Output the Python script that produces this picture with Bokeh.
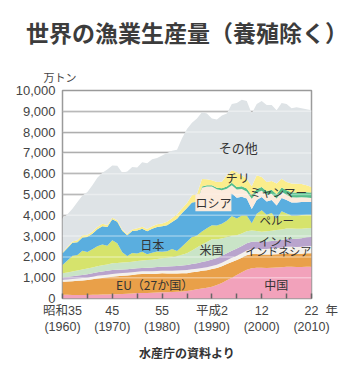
from bokeh.plotting import figure
from bokeh.models import (ColumnDataSource, Range1d, FixedTicker, NumeralTickFormatter,
                          Label, Span, Title)
from bokeh.embed import file_html
from bokeh.resources import INLINE

# ---- data (万トン) ----
years = list(range(1960, 2011))

china = [180, 175, 170, 170, 170, 170, 180, 185, 190, 195, 200,
         210, 220, 230, 245, 260, 265, 270, 280, 290, 300,
         305, 310, 320, 340, 360, 400, 440, 480, 520, 570,
         650, 750, 880, 1000, 1130, 1260, 1380, 1460, 1480, 1480,
         1470, 1480, 1490, 1500, 1530, 1530, 1520, 1520, 1530, 1530]

eu = [620, 640, 660, 680, 700, 720, 750, 780, 800, 820, 850,
      860, 870, 880, 890, 900, 910, 910, 900, 905, 910,
      900, 890, 880, 870, 850, 860, 850, 850, 840, 850,
      820, 800, 780, 760, 715, 700, 700, 680, 660, 640,
      650, 640, 640, 640, 640, 630, 630, 630, 640, 640]

indonesia = [100, 100, 105, 110, 115, 120, 120, 125, 125, 130, 130,
             130, 130, 130, 130, 130, 130, 130, 130, 130, 130,
             135, 140, 145, 150, 160, 150, 145, 140, 140, 140,
             150, 165, 180, 195, 210, 220, 230, 240, 250, 255,
             265, 280, 295, 305, 320, 325, 330, 335, 345, 350]

india = [110, 120, 130, 140, 150, 160, 165, 170, 180, 185, 190,
         180, 175, 170, 165, 160, 165, 170, 175, 185, 190,
         195, 205, 215, 225, 240, 250, 265, 280, 300, 320,
         330, 335, 340, 345, 350, 350, 350, 350, 350, 350,
         355, 360, 360, 365, 370, 380, 395, 410, 425, 440]

usa = [200, 210, 230, 250, 260, 270, 280, 290, 300, 310, 320,
       325, 330, 335, 340, 350, 360, 370, 380, 390, 400,
       420, 450, 480, 520, 560, 650, 750, 850, 920, 970,
       900, 840, 780, 720, 640, 600, 570, 540, 510, 480,
       490, 500, 505, 510, 510, 500, 480, 460, 440, 430]

peru = [400, 580, 760, 740, 900, 800, 870, 960, 1000, 900, 1115,
        950, 500, 300, 420, 365, 420, 280, 340, 360, 320,
        320, 380, 240, 400, 560, 650, 580, 620, 660, 670,
        660, 700, 780, 950, 800, 860, 760, 350, 820, 1040,
        800, 850, 550, 880, 720, 620, 640, 660, 650, 640]

japan = [560, 600, 620, 620, 640, 715, 750, 820, 880, 900, 1000,
         1030, 1030, 1000, 1050, 1100, 1100, 1100, 1150, 1180, 1220,
         1250, 1300, 1550, 1600, 1620, 1650, 1620, 1580, 1520, 1440,
         1320, 1200, 1120, 1080, 1000, 900, 820, 680, 660, 640,
         630, 620, 630, 630, 640, 630, 620, 620, 610, 610]

russia = [0, 0, 0, 0, 0, 0, 0, 0, 0, 0, 0,
          0, 0, 0, 0, 0, 0, 0, 0, 0, 0,
          0, 0, 0, 0, 0, 0, 0, 520, 480, 420,
          420, 420, 420, 400, 400, 370, 340, 500, 370, 300,
          320, 310, 340, 300, 260, 250, 240, 230, 210, 190]

myanmar = [0, 0, 0, 0, 0, 0, 0, 0, 0, 0, 0,
           0, 0, 0, 0, 0, 0, 0, 0, 0, 0,
           0, 0, 0, 0, 0, 0, 0, 60, 65, 70,
           80, 85, 100, 110, 120, 135, 140, 150, 160, 175,
           180, 190, 205, 210, 220, 235, 240, 250, 260, 270]

chile = [40, 60, 70, 90, 110, 115, 100, 110, 120, 90, 80,
         80, 60, 60, 80, 110, 100, 110, 120, 130, 130,
         160, 180, 220, 220, 240, 350, 380, 370, 290, 230,
         270, 320, 540, 600, 710, 530, 470, 450, 660, 485,
         440, 420, 510, 420, 390, 425, 425, 385, 330, 260]

world_total = [3850, 4050, 4320, 4640, 4950, 5120, 5440, 5800, 6050, 6200, 6400,
               6380, 6050, 6100, 6320, 6300, 6550, 6500, 6700, 6750, 6880,
               7000, 7100, 7150, 7700, 8150, 8450, 8650, 8950, 8900, 8650,
               8600, 8800, 8900, 9350, 9400, 9550, 9500, 8900, 9350, 9500,
               9300, 9300, 9050, 9400, 9350, 9150, 9200, 9150, 9100, 9050]

y_ticks = [0, 1000, 2000, 3000, 4000, 5000, 6000, 7000, 8000, 9000, 10000]
x_tick_years = [1960, 1965, 1970, 1975, 1980, 1985, 1990, 1995, 2000, 2005, 2010]
x_tick_labels = ["昭和35\n(1960)", "", "45\n(1970)", "", "55\n(1980)", "",
                 "平成2\n(1990)", "", "12\n(2000)", "", "\u3000\u00a0\u00a022\u00a0\u00a0年\n(2010)"]

series_names = ["china", "eu", "indonesia", "india", "usa", "peru", "japan", "russia", "myanmar", "chile"]
series_values = [china, eu, indonesia, india, usa, peru, japan, russia, myanmar, chile]
colors = ["#F2A2BB", "#E9A049", "#F4F1EB", "#B9A4CD", "#C9E4C7", "#D6E36C",
          "#5AAEDF", "#FCEBDC", "#55BE8A", "#FBED8C"]
grey = "#DEE3E6"

data = {"year": years, "total": world_total}
for n, v in zip(series_names, series_values):
    data[n] = v
data["country_sum"] = [sum(vals) for vals in zip(*series_values)]
src = ColumnDataSource(data)

JP = "Noto Sans CJK JP"
MIX = "Liberation Sans, Noto Sans CJK JP"
TXT = "#333333"

p = figure(width=350, height=380, x_range=Range1d(1960, 2010), y_range=Range1d(0, 10000),
           output_backend="svg", toolbar_location=None,
           min_border_left=62, min_border_right=39, min_border_top=90, min_border_bottom=82,
           background_fill_color="white", border_fill_color="white")

p.varea_stack(stackers=series_names, x="year", color=colors, source=src)
p.varea(x="year", y1="country_sum", y2="total", source=src, color=grey)

# grid
p.xgrid.visible = False
p.ygrid.ticker = FixedTicker(ticks=y_ticks)
p.ygrid.grid_line_color = "#8e8e8e"
p.ygrid.grid_line_width = 1.5
for v in y_ticks[1:-1]:
    p.add_layout(Span(location=v, dimension="width", line_color="white",
                      line_alpha=0.38, line_width=1.5))

p.outline_line_color = "#9a9a9a"
p.outline_line_width = 1.5

# y axis
p.yaxis.ticker = FixedTicker(ticks=y_ticks)
p.yaxis.formatter = NumeralTickFormatter(format="0,0")
p.yaxis.major_tick_in = 0
p.yaxis.major_tick_out = 0
p.yaxis.minor_tick_line_color = None
p.yaxis.axis_line_color = None
p.yaxis.major_label_standoff = 7
p.yaxis.major_label_text_font = "Liberation Sans"
p.yaxis.major_label_text_font_size = "13px"
p.yaxis.major_label_text_color = "#444444"

# x axis: inside ticks, two-line era/year labels
p.xaxis.ticker = FixedTicker(ticks=x_tick_years)
p.xaxis.major_label_overrides = {y: t for y, t in zip(x_tick_years, x_tick_labels)}
p.xaxis.major_tick_in = 5
p.xaxis.major_tick_out = 0
p.xaxis.major_tick_line_color = "#666666"
p.xaxis.major_tick_line_width = 1.5
p.xaxis.minor_tick_line_color = None
p.xaxis.axis_line_color = None
p.xaxis.major_label_standoff = 5
p.xaxis.major_label_text_font = MIX
p.xaxis.major_label_text_font_size = "12.5px"
p.xaxis.major_label_text_color = "#444444"

# titles
p.add_layout(Title(text="万トン", align="left", offset=-19, standoff=12,
                   text_font=JP, text_font_size="11px", text_font_style="normal",
                   text_color="#444444"), "above")
p.add_layout(Title(text="世界の漁業生産量（養殖除く）", align="center", offset=-7, standoff=24,
                   text_font=JP, text_font_size="23px", text_font_style="bold",
                   text_color="#3c3c3c"), "above")
p.add_layout(Title(text="水産庁の資料より", align="center", offset=-11, standoff=9,
                   text_font=JP, text_font_size="12px", text_font_style="bold",
                   text_color="#333333"), "below")


def lab(x, y, text, size="12px", bg=None):
    kw = {}
    if bg is not None:
        kw["background_fill_color"] = bg
    p.add_layout(Label(x=x, y=y, text=text, text_font=JP, text_font_size=size,
                       text_color=TXT, text_align="center", text_baseline="middle", **kw))


# series labels
lab(1995.3, 7260, "その他", size="13px")
lab(1995.2, 5800, "チリ", size="12px")
lab(2003.3, 5100, "ミャンマー", size="11.5px")
lab(1990.3, 4600, "ロシア", size="12px", bg="#FCEBDC")
lab(2003.0, 3760, "ペルー", size="11.5px")
lab(2002.8, 2780, "インド", size="11.5px")
lab(2003.3, 2275, "インドネシア", size="11px")
lab(1989.9, 2370, "米国", size="12px")
lab(2002.9, 670, "中国", size="12px")
lab(1978.0, 2610, "日本", size="12px")
lab(1978.5, 650, "EU（27か国）", size="12px")

open("out.html", "w").write(file_html(p, INLINE))
